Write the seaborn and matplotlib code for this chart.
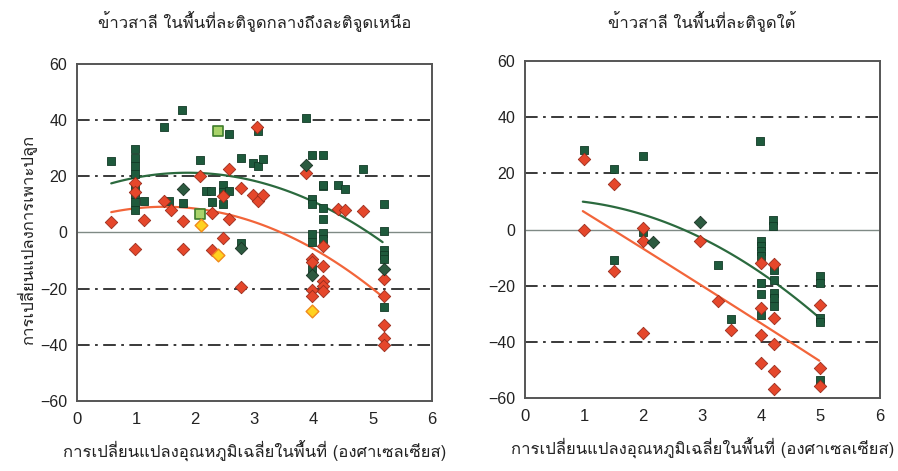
import numpy as np
import pandas as pd
import matplotlib
matplotlib.use("Agg")
import matplotlib.pyplot as plt
import seaborn as sns
from matplotlib import font_manager, ft2font

# ---- data: mid-to-northern latitudes ----
n_green_x = [0.57, 0.98, 0.98, 0.98, 0.98, 0.98, 0.98, 0.98, 0.98, 1.14, 1.47, 1.56, 1.77, 1.79,
             2.08, 2.18, 2.27, 2.28, 2.47, 2.47, 2.47, 2.58, 2.58, 2.78, 2.78, 2.97, 3.06, 3.14, 3.06,
             3.88, 3.98, 4.16, 4.84, 4.17, 4.42, 4.53,
             3.98, 3.98, 3.98, 3.98, 3.98, 4.17, 4.17, 4.17, 4.17, 4.17,
             5.19, 5.19, 5.19, 5.19, 5.19, 5.19]
n_green_y = [25.5, 29.6, 26.7, 23.8, 20.8, 16.5, 13.6, 10.7, 8.0, 11.2, 37.6, 11.2, 43.7, 10.4,
             25.8, 14.8, 14.8, 10.8, 16.8, 14.5, 10.0, 35.0, 14.8, 26.7, -3.7, 24.9, 23.7, 26.1, 36.0,
             40.6, 27.5, 27.5, 22.5, 16.5, 16.8, 15.4,
             11.8, 10.0, -0.5, -3.5, -13.2, 16.8, 8.8, 4.8, -0.1, -2.5,
             10.0, 0.5, -6.1, -7.9, -9.6, -26.5]
n_red_x = [0.58, 0.99, 0.99, 0.99, 1.14, 1.47, 1.59, 1.79, 1.79, 2.08, 2.28, 2.29, 2.47, 2.47,
           2.58, 2.58, 2.78, 2.78, 2.97, 3.07, 3.15, 3.05, 3.88, 3.98, 3.98, 3.98, 3.98,
           4.17, 4.17, 4.17, 4.17, 4.17, 4.42, 4.53, 4.84, 5.19, 5.19, 5.19, 5.19, 5.19]
n_red_y = [3.8, 17.7, 14.5, -5.8, 4.3, 11.2, 8.0, 4.0, -5.8, 20.1, 6.8, -6.1, 13.0, -1.9,
           22.7, 4.9, 16.0, -19.4, 13.2, 11.2, 13.2, 37.4, 21.3, -9.6, -10.7, -20.4, -22.7,
           -4.9, -11.8, -17.4, -19.2, -21.0, 8.5, 8.0, 7.6, -16.5, -22.7, -32.9, -37.6, -40.0]
n_light_x = [2.39, 2.08]
n_light_y = [36.2, 6.7]
n_yellow_x = [2.10, 2.39, 3.98]
n_yellow_y = [2.6, -8.2, -28.1]
n_dark_x = [1.79, 2.78, 3.88, 3.98, 5.19]
n_dark_y = [15.4, -5.5, 23.9, -15.0, -13.2]
n_gcurve_x = [0.58, 1.56, 2.12, 2.75, 3.88, 4.44, 5.17]
n_gcurve_y = [17.5, 20.7, 21.3, 20.1, 11.8, 5.8, -3.1]
n_rcurve_x = [0.58, 1.56, 2.12, 2.75, 3.42, 3.96, 4.44, 5.0, 5.17]
n_rcurve_y = [7.0, 9.4, 8.2, 5.8, 0.0, -5.5, -12.0, -19.8, -22.7]

# ---- data: southern latitudes ----
s_green_x = [1.0, 1.5, 1.99, 1.99, 1.5, 3.27, 3.49, 3.97, 4.19, 4.19,
             3.99, 3.99, 3.99, 3.99, 3.99, 3.99, 3.99,
             4.21, 4.21, 4.21, 4.21, 4.21, 4.99, 4.99, 4.99, 4.99, 4.99]
s_green_y = [28.5, 21.6, 26.4, -1.0, -11.0, -12.5, -31.8, 31.7, 3.6, 1.2,
             -4.2, -6.0, -7.7, -9.5, -19.0, -23.0, -30.6,
             -14.3, -17.8, -22.6, -24.4, -27.3, -16.6, -19.0, -31.5, -33.0, -53.5]
s_red_x = [1.0, 1.5, 1.0, 1.99, 1.99, 1.5, 2.0, 2.97, 3.27, 3.49,
           3.99, 3.99, 3.99, 3.99, 4.21, 4.21, 4.21, 4.21, 4.21, 4.99, 4.99, 4.99]
s_red_y = [25.0, 16.4, 0.0, 0.6, -4.2, -14.9, -36.8, -4.0, -25.5, -35.9,
           -11.9, -27.9, -37.4, -47.5, -12.1, -31.5, -40.7, -50.5, -56.8, -26.7, -49.3, -55.8]
s_dark_x = [2.16, 2.97]
s_dark_y = [-4.5, 2.6]
s_gcurve_x = [0.98, 1.83, 2.62, 2.96, 3.46, 4.19, 4.98]
s_gcurve_y = [9.7, 6.5, 1.2, -2.4, -8.9, -19.0, -30.9]
s_rcurve_x = [0.98, 1.49, 2.0, 2.96, 4.03, 4.98]
s_rcurve_y = [6.5, 0.0, -6.5, -20.2, -33.3, -46.9]

titles = ["ข้าวสาลี ในพื้นที่ละติจูดกลางถึงละติจูดเหนือ", "ข้าวสาลี ในพื้นที่ละติจูดใต้"]
xlabel = "การเปลี่ยนแปลงอุณหภูมิเฉลี่ยในพื้นที่ (องศาเซลเซียส)"
ylabel = "การเปลี่ยนแปลงการเพาะปลูก"
x_ticks = [0, 1, 2, 3, 4, 5, 6]
y_ticks = [-60, -40, -20, 0, 20, 40, 60]


def thai_family():
    for f in font_manager.fontManager.ttflist:
        try:
            if 0x0E01 in ft2font.FT2Font(f.fname).get_charmap():
                return f.name
        except Exception:
            pass
    return "DejaVu Sans"


sns.set_theme(style="white")
THAI = thai_family()
plt.rcParams["font.family"] = ["Liberation Sans Narrow", "Liberation Sans", "DejaVu Sans"]
THAI_FONT = dict(family=[THAI, "DejaVu Sans"], fontsize=12, color="#222222")

GREEN = "#1e5a3c"
GREEN_EDGE = "#123a26"
RED = "#e5472b"
RED_EDGE = "#9a2c1c"
GREEN_LINE = "#2b6a3e"
RED_LINE = "#f2653a"

fig = plt.figure(figsize=(8.98, 4.71), dpi=100)
ax_n = fig.add_axes([0.0857, 0.149, 0.395, 0.715])
ax_s = fig.add_axes([0.5845, 0.155, 0.395, 0.715])


def draw_panel(ax, green, red, dark, gcurve, rcurve, light=None, yellow=None):
    for yv in (40, 20, -20, -40):
        ax.axhline(yv, color="#2a2a2a", lw=1.3, ls=(0, (7, 3, 1.5, 3)), zorder=1)
    ax.axhline(0, color="#7f8a85", lw=1.0, zorder=1)

    sns.regplot(x=gcurve[0], y=gcurve[1], order=2, ci=None, scatter=False, truncate=True,
                line_kws=dict(color=GREEN_LINE, lw=1.6, zorder=2), ax=ax)
    sns.regplot(x=rcurve[0], y=rcurve[1], order=2, ci=None, scatter=False, truncate=True,
                line_kws=dict(color=RED_LINE, lw=1.6, zorder=2), ax=ax)

    sns.scatterplot(x=green[0], y=green[1], marker="s", s=40, color=GREEN,
                    edgecolor=GREEN_EDGE, linewidth=0.6, ax=ax, zorder=3)
    sns.scatterplot(x=red[0], y=red[1], marker="D", s=40, color=RED,
                    edgecolor=RED_EDGE, linewidth=0.6, ax=ax, zorder=4)
    sns.scatterplot(x=dark[0], y=dark[1], marker="D", s=40, color="#2c5a40",
                    edgecolor="#1a3324", linewidth=0.6, ax=ax, zorder=4)
    if light is not None:
        sns.scatterplot(x=light[0], y=light[1], marker="s", s=55, color="#a9d36a",
                        edgecolor="#3f7d2c", linewidth=1.2, ax=ax, zorder=5)
    if yellow is not None:
        sns.scatterplot(x=yellow[0], y=yellow[1], marker="D", s=42, color="#ffd21f",
                        edgecolor="#f08a1c", linewidth=1.0, ax=ax, zorder=5)

    ax.set_xlim(0, 6)
    ax.set_ylim(-60, 60)
    ax.set_xticks(x_ticks)
    ax.set_yticks(y_ticks)
    ax.tick_params(axis="y", labelsize=11.5, length=6, width=1.0, color="#444444", pad=7,
                   direction="in", labelcolor="#222222")
    ax.tick_params(axis="x", labelsize=12, length=0, pad=8, labelcolor="#222222")
    for sp in ax.spines.values():
        sp.set_color("#555555")
        sp.set_linewidth(1.4)
    ax.set_xlabel(xlabel, labelpad=10, **THAI_FONT)


draw_panel(ax_n, (n_green_x, n_green_y), (n_red_x, n_red_y), (n_dark_x, n_dark_y),
           (n_gcurve_x, n_gcurve_y), (n_rcurve_x, n_rcurve_y),
           light=(n_light_x, n_light_y), yellow=(n_yellow_x, n_yellow_y))
draw_panel(ax_s, (s_green_x, s_green_y), (s_red_x, s_red_y), (s_dark_x, s_dark_y),
           (s_gcurve_x, s_gcurve_y), (s_rcurve_x, s_rcurve_y))

ax_n.set_ylabel(ylabel, **THAI_FONT)
ax_n.yaxis.set_label_coords(-0.112, 0.478)
ax_n.set_title(titles[0], pad=26, **THAI_FONT)
ax_s.set_title(titles[1], pad=24, **THAI_FONT)

fig.savefig("out.png", dpi=100, facecolor="white")
